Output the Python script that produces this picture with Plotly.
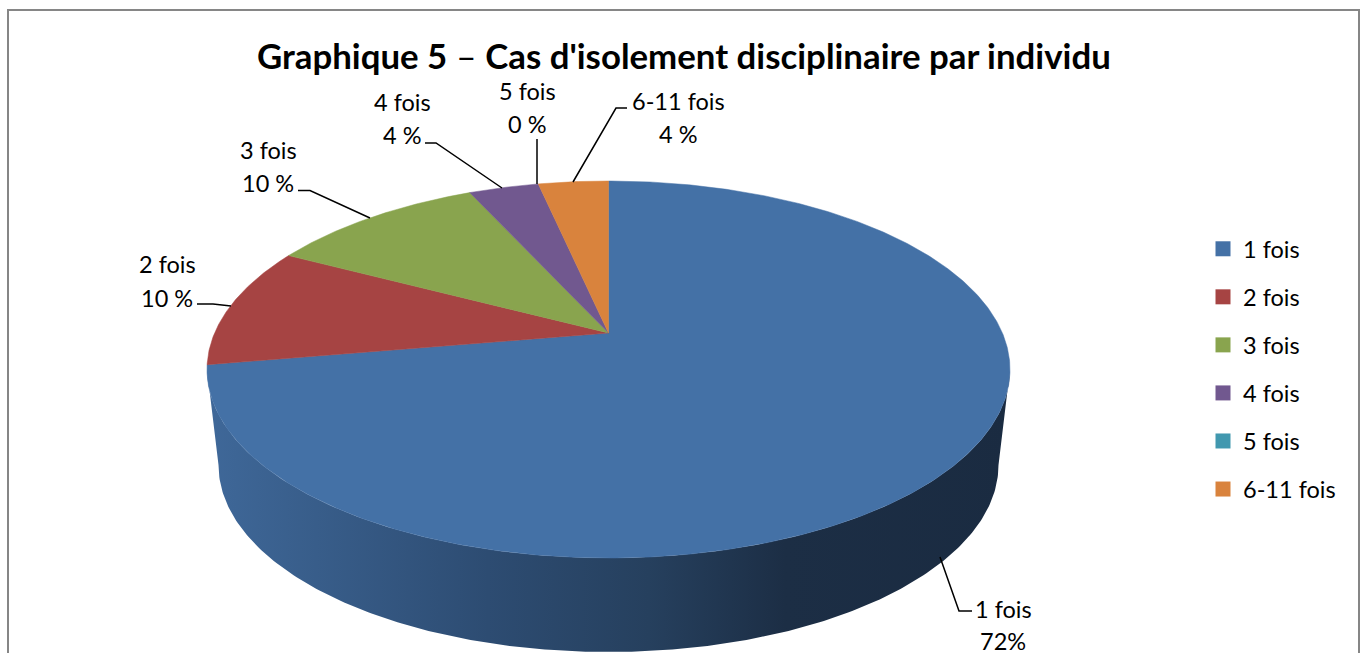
import numpy as np
import plotly.graph_objects as go

# ---- data ----
categories = ["1 fois", "2 fois", "3 fois", "4 fois", "5 fois", "6-11 fois"]
slice_values = [72.3, 10.4, 10.5, 3.4, 0.0, 3.4]
value_labels = ["72%", "10 %", "10 %", "4 %", "0 %", "4 %"]
colors = ["#4471A6", "#A64443", "#89A44E", "#71588F", "#4198AF", "#D9833D"]
title_parts = ["Graphique 5", "Cas d'isolement disciplinaire par individu"]

# ---- layout (pixel space of the page) ----
W, H = 1361, 653
FONT = "Lato, Carlito, Calibri, sans-serif"
CX, EY, RX, RY = 608.5, 369.5, 401.5, 188.5     # top-face ellipse
APEX_Y = 333.0                                   # perspective image of the pie centre
BX, BY, BRX, BRY = 608.5, 465.0, 390.0, 187.0    # bottom-rim ellipse

TOP, BOT = EY - RY, EY + RY
c = (TOP + BOT - 2 * APEX_Y) / (BOT - TOP)
b = TOP * (1 + c) - APEX_Y
k = RX * np.sqrt(1 - ((APEX_Y - EY) / RY) ** 2)


def project(theta):
    """Circle angle (clockwise from 12 o'clock) -> page pixel, with perspective."""
    u, v = np.sin(theta), np.cos(theta)
    w = 1 + c * v
    return CX + k * u / w, (APEX_Y + b * v) / w


fig = go.Figure()

# side wall
t = np.linspace(0, np.pi, 240)
wall_x = np.concatenate([CX + RX * np.cos(t), BX + BRX * np.cos(t[::-1])])
wall_y = np.concatenate([EY + RY * np.sin(t), BY + BRY * np.sin(t[::-1])])
fig.add_trace(go.Scatter(
    x=wall_x, y=wall_y, mode="lines", fill="toself", line=dict(width=0),
    fillgradient=dict(type="horizontal", colorscale=[
        [0.0, "#3F6899"], [0.35, "#2D4C72"], [0.55, "#26405E"], [0.72, "#1C2E45"], [1.0, "#1A2B41"]]),
    showlegend=False, hoverinfo="skip"))

# top-face slices, derived from the values
total = sum(slice_values)
start = 0.0
for name, val, col in zip(categories, slice_values, colors):
    a0, a1 = start / total * 2 * np.pi, (start + val) / total * 2 * np.pi
    start += val
    if val > 0:
        th = np.linspace(a0, a1, max(3, int(val * 8)))
        px, py = project(th)
        fig.add_trace(go.Scatter(
            x=np.r_[CX, px, CX], y=np.r_[APEX_Y, py, APEX_Y], mode="lines",
            fill="toself", fillcolor=col, line=dict(color=col, width=0.5),
            showlegend=False, hovertext=name, hoverinfo="text"))

# legend entries
for i, (name, col) in enumerate(zip(categories, colors)):
    fig.add_trace(go.Scatter(
        x=[None], y=[None], mode="markers", name=name, legendgroup=f"g{i}",
        marker=dict(symbol="square", size=15, color=col)))

# leader lines and two-line labels (page positions, one per category)
leaders = [
    [(940, 557), (959, 611), (972, 611)],
    [(197, 304), (213, 304), (231, 306)],
    [(298, 190.5), (310, 190.5), (370, 218)],
    [(425, 143), (436, 143), (502, 188)],
    [(537, 139), (537, 184)],
    [(627, 108), (616, 108), (573, 182)],
]
label_pos = [(1003, 609, 641), (167, 264, 298), (268, 150, 183),
             (402, 102, 135), (527, 91, 124), (678, 101, 134)]

shapes = [dict(type="rect", x0=8, y0=10, x1=1359, y1=720,
               line=dict(color="#868686", width=2), fillcolor="rgba(0,0,0,0)")]
for pts in leaders:
    path = "M " + " L ".join(f"{x} {y}" for x, y in pts)
    shapes.append(dict(type="path", path=path, line=dict(color="#000000", width=1.5)))

annotations = []
for name, lab, (x, y1, y2) in zip(categories, value_labels, label_pos):
    for txt, y in ((name, y1), (lab, y2)):
        annotations.append(dict(x=x, y=y, text=txt, showarrow=False, xref="x", yref="y",
                                xanchor="center", yanchor="middle",
                                font=dict(family=FONT, size=23.5, color="#000000")))
annotations.append(dict(
    x=684, y=55, xref="x", yref="y", showarrow=False, xanchor="center", yanchor="middle",
    text=f"<b>{title_parts[0]}</b> – <b>{title_parts[1]}</b>",
    font=dict(family=FONT, size=34.8, color="#000000")))

fig.update_layout(
    width=W, height=H, margin=dict(l=0, r=0, t=0, b=0),
    paper_bgcolor="#FFFFFF", plot_bgcolor="#FFFFFF",
    xaxis=dict(range=[0, W], visible=False, fixedrange=True),
    yaxis=dict(range=[H, 0], visible=False, fixedrange=True),
    shapes=shapes, annotations=annotations, hovermode="closest",
    legend=dict(x=1203 / W, y=1 - 227 / H, xanchor="left", yanchor="top",
                bgcolor="rgba(0,0,0,0)", tracegroupgap=14.5, traceorder="grouped",
                font=dict(family=FONT, size=23.5, color="#000000"), itemclick=False,
                itemdoubleclick=False),
)
fig.write_html("out.html", config={"displayModeBar": False},
               post_script="document.body.style.margin='0';document.body.style.overflow='hidden';")
